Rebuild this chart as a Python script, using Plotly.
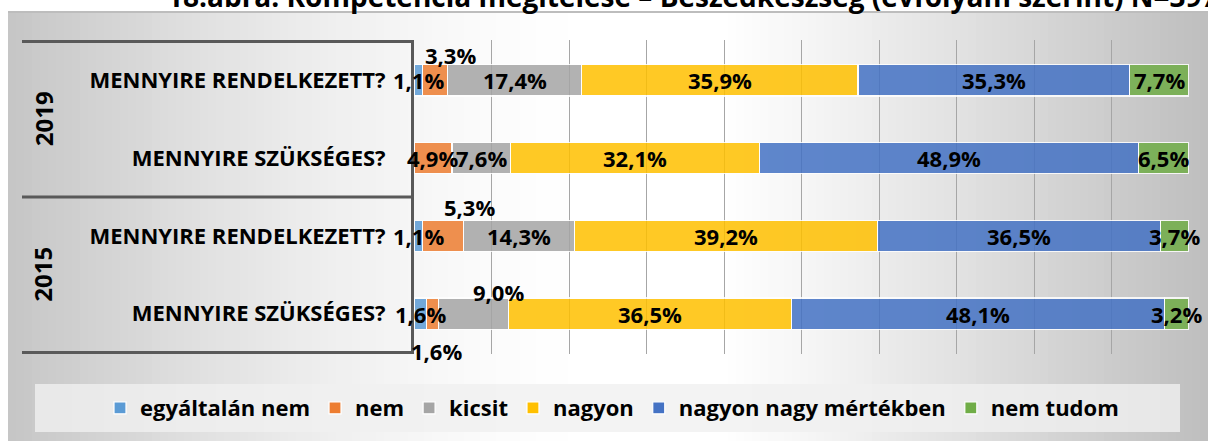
import plotly.graph_objects as go

# adatok
years = ["2019", "2015"]
rows = ["MENNYIRE RENDELKEZETT?", "MENNYIRE SZÜKSÉGES?",
        "MENNYIRE RENDELKEZETT?", "MENNYIRE SZÜKSÉGES?"]
row_year = ["2019", "2019", "2015", "2015"]

series = ["egyáltalán nem", "nem", "kicsit", "nagyon", "nagyon nagy mértékben", "nem tudom"]
egyaltalan_nem = [1.1, 0.0, 1.1, 1.6]
nem = [3.3, 4.9, 5.3, 1.6]
kicsit = [17.4, 7.6, 14.3, 9.0]
nagyon = [35.9, 32.1, 39.2, 36.5]
nagyon_nagy = [35.3, 48.9, 36.5, 48.1]
nem_tudom = [7.7, 6.5, 3.7, 3.2]
values = [egyaltalan_nem, nem, kicsit, nagyon, nagyon_nagy, nem_tudom]

colors = ['#5B9BD5', '#ED7D31', '#A5A5A5', '#FFC000', '#4472C4', '#70AD47']

title_text = "18.ábra: Kompetencia megítélése – Beszédkészség (évfolyam szerint) N=397"

FONT = "Open Sans"
FS = 22
W, H = 1208, 441
# rajzterület képpontokban
X0, X1, Y0, Y1 = 414, 1189, 40, 354


def px(x):
    return x / W


def py(y):
    return 1 - y / H


fig = go.Figure()
ypos = list(range(len(rows)))

for name, vals, col in zip(series, values, colors):
    fig.add_trace(go.Bar(
        y=ypos, x=vals, name='<b>' + name + '</b>', orientation='h',
        marker=dict(color=col, opacity=0.85, line=dict(color='white', width=1.2)),
        hoverinfo='skip'
    ))

# kézzel áthelyezett címkék (sor, sorozat) -> (xshift, yshift)
label_moves = {(0, 1): (15, 25), (2, 1): (26, 29), (3, 2): (25, 22), (3, 1): (4, -37)}

annotations = []
for r in range(len(rows)):
    total = sum(v[r] for v in values)
    cum = 0
    for s, vals in enumerate(values):
        v = vals[r]
        if v > 0:
            xs, ys = label_moves.get((r, s), (0, 0))
            annotations.append(dict(
                x=(cum + v / 2) / total * 100, y=r, xref='x', yref='y',
                text='<b>' + f"{v:.1f}%".replace('.', ',') + '</b>',
                showarrow=False, xshift=xs, yshift=ys,
                font=dict(family=FONT, size=FS, color='black')
            ))
        cum += v

# évszámok
for yr in years:
    idx = [i for i, y in enumerate(row_year) if y == yr]
    annotations.append(dict(
        x=px(43), xref='paper', xanchor='center', y=sum(idx) / len(idx), yref='y',
        text='<b>' + yr + '</b>', textangle=-90, showarrow=False,
        font=dict(family=FONT, size=24, color='black')
    ))

# cím (felül levágva, mint az eredetin)
annotations.append(dict(
    x=px(165), xref='paper', xanchor='left', y=py(-4), yref='paper',
    yanchor='middle', text='<b>' + title_text + '</b>', showarrow=False,
    font=dict(family=FONT, size=28, color='black')
))

shapes = []


# háttér színátmenet
def bg(x):
    if x < 600:
        t = x / 600
        g = 196 + (255 - 196) * (1 - (1 - t) ** 1.6)
    elif x < 720:
        g = 255
    else:
        t = (x - 720) / (W - 720)
        g = 255 - (255 - 190) * t ** 1.1
    g = int(round(g))
    return f'rgb({g},{g},{g})'


step = 8
for x in range(8, W, step):
    shapes.append(dict(type='rect', xref='paper', yref='paper', layer='below',
                       x0=px(x), x1=px(x + step + 1), y0=py(H), y1=py(12),
                       fillcolor=bg(x + step / 2), line=dict(width=0)))
shapes.append(dict(type='line', xref='paper', yref='paper', layer='below',
                   x0=px(8), x1=1, y0=py(12), y1=py(12),
                   line=dict(color='#bdbdbd', width=2)))

# kategória elválasztó vonalak
for yv in [-0.5, 1.5, 3.5]:
    shapes.append(dict(type='line', xref='paper', yref='y', x0=px(22), x1=px(X0),
                       y0=yv, y1=yv, line=dict(color='#595959', width=3)))

# jelmagyarázat háttér
shapes.append(dict(type='rect', xref='paper', yref='paper', layer='below',
                   x0=px(35), x1=px(1180), y0=py(432), y1=py(384),
                   fillcolor='rgba(240,240,240,0.8)', line=dict(width=0)))

fig.update_layout(
    width=W, height=H,
    barmode='stack', barnorm='percent', bargap=0.6,
    paper_bgcolor='white', plot_bgcolor='rgba(0,0,0,0)',
    margin=dict(l=0, r=0, t=0, b=0),
    xaxis=dict(domain=[px(X0), px(X1)], range=[0, 100], dtick=10,
               showticklabels=False, showgrid=True,
               gridcolor='#a6a6a6', gridwidth=1, zeroline=False, fixedrange=True),
    yaxis=dict(domain=[py(Y1), py(Y0)], tickvals=ypos,
               ticktext=['<b>' + t + '</b>' for t in rows],
               autorange='reversed', showgrid=False, zeroline=False,
               showline=True, linecolor='#595959', linewidth=3,
               ticks='', ticklabelstandoff=21, fixedrange=True,
               tickfont=dict(family=FONT, size=FS, color='black')),
    legend=dict(orientation='h', x=px(612), xanchor='center',
                y=py(408), yanchor='middle',
                bgcolor='rgba(0,0,0,0)', font=dict(family=FONT, size=FS, color='black'),
                itemwidth=30, traceorder='normal'),
    annotations=annotations,
    shapes=shapes,
    showlegend=True,
)

# az oldal alapértelmezett margója nélkül
fig.write_html("out.html", config={'displayModeBar': False},
               post_script="document.body.style.margin='0';")
